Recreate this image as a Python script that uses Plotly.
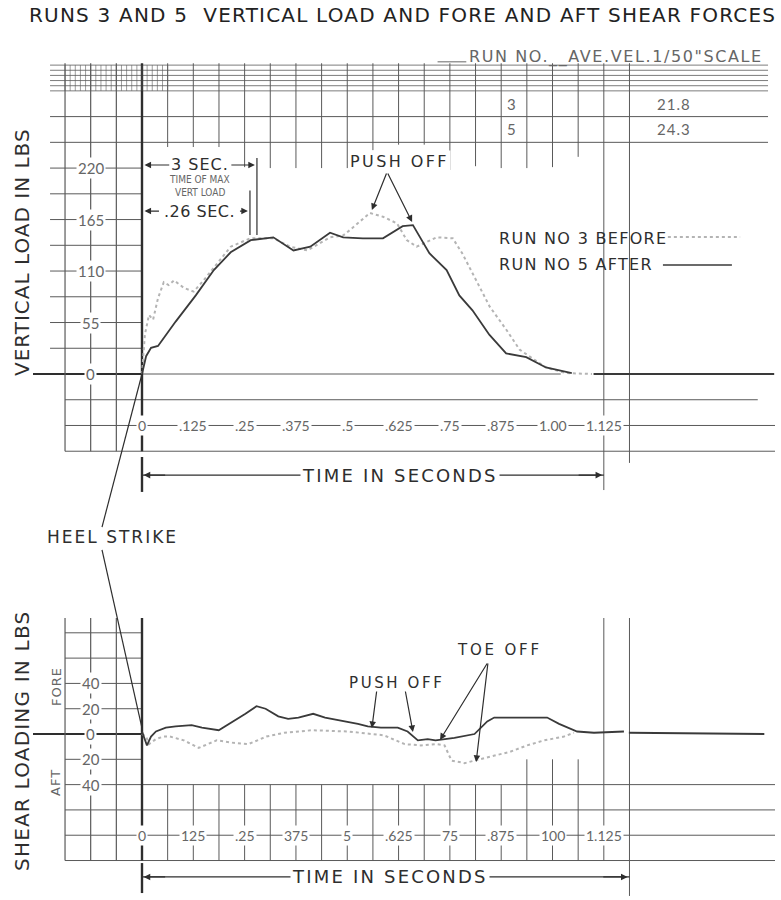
import plotly.graph_objects as go

# ---------------- data ----------------
# Vertical load (lbs) against time (s)
run5_time = [0, 0.010, 0.022, 0.039, 0.082, 0.131, 0.175, 0.216, 0.265, 0.320, 0.369, 0.410,
             0.458, 0.490, 0.538, 0.587, 0.635, 0.660, 0.700, 0.742, 0.773, 0.805, 0.846,
             0.887, 0.936, 0.984, 1.047, None, 1.100, 1.540]
run5_load = [0, 19, 28, 30, 56, 84, 111, 130, 143, 146, 132, 136,
             151, 146, 145, 145, 158, 159, 129, 111, 84, 68, 42,
             22, 18, 7, 1, None, 0, 0]

run3_time = [0, 0.007, 0.017, 0.027, 0.039, 0.053, 0.065, 0.078, 0.102, 0.126, 0.150, 0.175,
             0.216, 0.264, 0.320, 0.361, 0.403, 0.458, 0.490, 0.507, 0.555, 0.587, 0.621,
             0.645, 0.669, 0.718, 0.757, 0.780, 0.815, 0.847, 0.888, 0.920, 0.950, 0.984,
             1.033, 1.096]
run3_load = [0, 42, 63, 58, 81, 98, 95, 100, 92, 88, 100, 114,
             136, 145, 145, 136, 132, 146, 148, 154, 172, 168, 161,
             143, 136, 146, 145, 129, 100, 72, 47, 26, 17, 7,
             1, 0]

# Fore (+) / aft (-) shear (lbs) against time (s)
shear5_time = [0, 0.012, 0.022, 0.034, 0.058, 0.082, 0.121, 0.146, 0.187, 0.218, 0.252, 0.279,
               0.301, 0.332, 0.356, 0.381, 0.417, 0.446, 0.495, 0.526, 0.550, 0.582, 0.623,
               0.647, 0.672, 0.696, 0.715, 0.761, 0.810, 0.841, 0.858, 0.914, 0.987, 1.016,
               1.060, 1.101, 1.157, 1.174, None, 1.186, 1.516]
shear5_load = [2, -9, -2, 2, 5, 6, 7, 5, 3, 9, 16, 22,
               20, 14, 12, 13, 16, 13, 10, 8, 6, 5, 5,
               2, -5, -4, -5, -3, 0, 10, 13, 13, 13, 8,
               2, 1, 2, 2, None, 1, 0]

shear3_time = [0, 0.010, 0.017, 0.034, 0.053, 0.068, 0.102, 0.138, 0.182, 0.223, 0.259, 0.303,
               0.347, 0.415, 0.502, 0.589, 0.640, 0.679, 0.718, 0.737, 0.754, 0.786, 0.810,
               0.858, 0.897, 0.938, 0.980, 1.028, 1.052]
shear3_load = [0, -2, -8, -4, -2, -2, -5, -11, -5, -7, -8, -2,
               1, 3, 2, -1, -8, -9, -8, -9, -21, -23, -21,
               -17, -14, -9, -5, -2, 1]

time_ticks = [0, 0.125, 0.25, 0.375, 0.5, 0.625, 0.75, 0.875, 1.0, 1.125]
time_labels_top = ["0", ".125", ".25", ".375", ".5", ".625", ".75", ".875", "1.00", "1.125"]
time_labels_bottom = ["0", "125", ".25", "375", "5", ".625", "75", ".875", "100", "1.125"]
load_ticks = [220, 165, 110, 55, 0]
shear_ticks = [40, 20, 0, -20, -40]
shear_tick_labels = ["40", "20", "0", "20", "40"]
run_numbers = ["3", "5"]
run_velocities = ["21.8", "24.3"]

# ---------------- styling ----------------
INK = "#2e2e2e"
GRID = "#5a5a5a"
SOFT = "#666666"
LIGHT = "#b4b4b4"
FONT = "DejaVu Sans"
NUM_FONT = "Lato"

X_RANGE = [-0.3459, 1.5566]     # seconds across the sheet
Y_TOP = [-561.97, 399.57]       # vertical-load scale (lbs)
Y_BOT = [-131.2, 580.2]         # shear scale (lbs)

fig = go.Figure()

# ---------------- traces ----------------
fig.add_trace(go.Scatter(x=run3_time, y=run3_load, mode="lines", yaxis="y",
                         line=dict(color=LIGHT, width=2, dash="dot"), connectgaps=False,
                         name="RUN NO 3 BEFORE", hoverinfo="skip"))
fig.add_trace(go.Scatter(x=run5_time, y=run5_load, mode="lines", yaxis="y",
                         line=dict(color="#3a3a3a", width=1.8), connectgaps=False,
                         name="RUN NO 5 AFTER", hoverinfo="skip"))
fig.add_trace(go.Scatter(x=shear3_time, y=shear3_load, mode="lines", yaxis="y2",
                         line=dict(color=LIGHT, width=2, dash="dot"), connectgaps=False,
                         name="RUN NO 3 BEFORE (shear)", hoverinfo="skip"))
fig.add_trace(go.Scatter(x=shear5_time, y=shear5_load, mode="lines", yaxis="y2",
                         line=dict(color="#3a3a3a", width=1.8), connectgaps=False,
                         name="RUN NO 5 AFTER (shear)", hoverinfo="skip"))

shapes = []
annotations = []


def spaced(text, px):
    """Wrap text in a span with extra tracking."""
    return f'<span style="letter-spacing:{px}px">{text}</span>' if px else text


def hline(y, x0, x1, yref="y", color=GRID, width=1.0, dash="solid"):
    shapes.append(dict(type="line", xref="x", yref=yref, x0=x0, x1=x1, y0=y, y1=y,
                       line=dict(color=color, width=width, dash=dash), layer="below"))


def vline(x, y0, y1, yref="y", color=GRID, width=1.0):
    shapes.append(dict(type="line", xref="x", yref=yref, x0=x, x1=x, y0=y0, y1=y1,
                       line=dict(color=color, width=width), layer="below"))


def seg(x0, y0, x1, y1, yref="y", color=INK, width=1.2):
    shapes.append(dict(type="line", xref="x", yref=yref, x0=x0, x1=x1, y0=y0, y1=y1,
                       line=dict(color=color, width=width), layer="above"))


def arrow(xh, yh, xt, yt, yref="y", width=1.2):
    annotations.append(dict(x=xh, y=yh, ax=xt, ay=yt, xref="x", yref=yref, axref="x",
                            ayref=yref, text="", showarrow=True, arrowhead=2, arrowsize=1.1,
                            arrowwidth=width, arrowcolor=INK))


def label(x, y, text, yref="y", size=15, color=INK, xanchor="center", bg=None,
          angle=0, xref="x", family=FONT, track=0):
    a = dict(x=x, y=y, xref=xref, yref=yref, text=spaced(text, track), showarrow=False,
             xanchor=xanchor, yanchor="middle", textangle=angle,
             font=dict(family=family, size=size, color=color))
    if bg:
        a.update(bgcolor=bg, borderpad=1)
    annotations.append(a)


STEP_T = 0.0625

# ---------- upper sheet: vertical load grid ----------
for k in range(6):                                   # dense header band
    hline(302.5 + 5.5 * k, -0.224, 1.525, width=0.8)
for y in (275, 247.5):
    hline(y, -0.224, 1.525)
for k in range(1, 9):                                # left margin rows
    hline(27.5 * k, -0.224, 0)
hline(0, -0.2655, 0, color=INK, width=2.2)
hline(0, 0, 1.02, width=1)
hline(-27.5, -0.1875, 1.50)
hline(-55, -0.1875, 1.542)
hline(-82.5, -0.1875, 1.542)

for x in (-0.1875, -0.125, -0.0625):
    vline(x, -82.5, 332, width=1.2)
vline(0, -82.5, 332, color=INK, width=2.4)
fx = -0.1875
while fx < 0.0626:                                   # fine ruling in the header band
    vline(fx, 302.5, 330, width=0.6)
    fx += 0.0125
drops = [242.5, 242.5, 242.5, 221, 220, 220, 220, 220, 239, 245, 245, 218, 222, 220, 220, 221, 232]
for k, end in enumerate(drops, start=1):
    vline(STEP_T * k, end, 332)
vline(1.125, -124, 332)
vline(1.1875, -95, 332)

# time scale row (upper)
for t, s in zip(time_ticks, time_labels_top):
    label(t, -55, s, size=14, color=SOFT, bg="white", family=NUM_FONT)
for v in load_ticks:
    label(-0.125, v, str(v), size=15, color=SOFT, bg="white", family=NUM_FONT)

# TIME IN SECONDS (upper)
vline(0, -126, -88.7, color=INK, width=2.4)
shapes[-1]["layer"] = "above"
seg(0, -108, 1.125, -108)
arrow(0.004, -108, 0.06, -108)
arrow(1.121, -108, 1.06, -108)
label(0.628, -108, "TIME IN SECONDS", size=18, bg="white", track=2.2)

# max-load brackets
seg(0.28, 148.5, 0.28, 230.8)
seg(0.263, 148.5, 0.263, 196)
arrow(0.006, 223.3, 0.07, 223.3)
arrow(0.275, 223.3, 0.214, 223.3)
label(0.141, 223.3, "3 SEC.", size=16, track=1)
label(0.141, 207.3, "TIME OF MAX", size=10, color=SOFT, family="DejaVu Sans Condensed")
label(0.141, 194.4, "VERT LOAD", size=10, color=SOFT, family="DejaVu Sans Condensed")
arrow(0.006, 174.1, 0.045, 174.1)
arrow(0.258, 174.1, 0.235, 174.1)
label(0.141, 174.1, ".26 SEC.", size=16, track=0.5)

# push off (upper)
label(0.628, 226.5, "PUSH OFF", size=16, bg="white", track=2.4)
arrow(0.560, 175.2, 0.597, 215.8)
arrow(0.658, 162.4, 0.597, 215.8)

# key
label(0.865, 145.3, "RUN NO 3 BEFORE", size=16, xanchor="left", track=1.3)
label(0.865, 116.5, "RUN NO 5 AFTER", size=16, xanchor="left", track=1.3)
shapes.append(dict(type="line", xref="x", yref="y", x0=1.281, x1=1.457, y0=146.4, y1=146.4,
                   line=dict(color=LIGHT, width=2, dash="dot")))
shapes.append(dict(type="line", xref="x", yref="y", x0=1.269, x1=1.437, y0=116.5, y1=116.5,
                   line=dict(color="#3a3a3a", width=1.5)))

# run table
label(0.792, 338.7, 'RUN NO.__AVE.VEL.1/50"SCALE', size=16, color=SOFT, xanchor="left",
      track=1.6)
seg(0.72, 333.5, 0.79, 333.5, color=SOFT, width=1)
for yv, rn, vel in zip((288.75, 261.25), run_numbers, run_velocities):
    label(0.901, yv, rn, size=15, color=SOFT, family=NUM_FONT)
    label(1.25, yv, vel, size=15, color=SOFT, xanchor="left", family=NUM_FONT, track=1)

label(-0.2923, 130.3, "VERTICAL LOAD IN LBS", size=20, angle=-90, track=1)

# heel strike
label(-0.073, -174.1, "HEEL STRIKE", size=17, track=2)
seg(-0.0974, -163.5, 0, 0)
seg(-0.0974, 145.5, 0, 4.7, yref="y2")

# ---------- lower sheet: shear grid ----------
for y in (80, 60, 40, 20, -20):
    hline(y, -0.1875, 0, yref="y2")
hline(0, -0.2655, 0, yref="y2", color=INK, width=2.2)
for y in (-40, -60, -80, -100):
    hline(y, -0.1875, 1.542, yref="y2")
for x in (-0.1875, -0.125, -0.0625):
    vline(x, -100, 91.7, yref="y2", width=1.2)
vline(0, -100, 91.7, yref="y2", color=INK, width=2.4)
for k in range(1, 18):
    vline(STEP_T * k, -100, -20 if k >= 15 else -40, yref="y2")
vline(1.125, -100, 91.7, yref="y2")
vline(1.1875, -128, 91.7, yref="y2")

for t, s in zip(time_ticks, time_labels_bottom):
    label(t, -80, s, yref="y2", size=14, color=SOFT, bg="white", family=NUM_FONT)
for v, s in zip(shear_ticks, shear_tick_labels):
    label(-0.125, v, s, yref="y2", size=15, color=SOFT, bg="white", family=NUM_FONT)

label(-0.2095, 37.9, "FORE", yref="y2", size=13, color=SOFT, angle=-90, track=1)
label(-0.2095, -37.9, "AFT", yref="y2", size=13, color=SOFT, angle=-90, track=1)
label(-0.2923, -5.5, "SHEAR LOADING IN LBS", yref="y2", size=20, angle=-90, track=1.2)

# TIME IN SECONDS (lower)
vline(0, -125.7, -102, yref="y2", color=INK, width=2.4)
shapes[-1]["layer"] = "above"
seg(0, -113, 1.1875, -113, yref="y2")
arrow(0.004, -113, 0.06, -113, yref="y2")
arrow(1.183, -113, 1.12, -113, yref="y2")
label(0.604, -113, "TIME IN SECONDS", yref="y2", size=18, bg="white", track=2.2)

# push off / toe off (lower)
label(0.619, 40.3, "PUSH OFF", yref="y2", size=15, track=2.6)
arrow(0.560, 4.7, 0.572, 34.8, yref="y2")
arrow(0.660, 1.6, 0.641, 34.8, yref="y2")
label(0.872, 66.4, "TOE OFF", yref="y2", size=15, track=2.8)
arrow(0.726, -4.7, 0.843, 56.9, yref="y2")
arrow(0.814, -22.1, 0.843, 56.9, yref="y2")

# title
annotations.append(dict(x=0.515, y=1 - 15 / 900, xref="paper", yref="paper", showarrow=False,
                        text=spaced("RUNS 3 AND 5  VERTICAL LOAD AND FORE AND AFT SHEAR FORCES", 1.2),
                        font=dict(family=FONT, size=20, color="#222"),
                        xanchor="center", yanchor="middle"))

fig.update_layout(
    width=781, height=900,
    margin=dict(l=0, r=0, t=0, b=0),
    paper_bgcolor="white", plot_bgcolor="white",
    showlegend=False,
    xaxis=dict(range=X_RANGE, visible=False, domain=[0, 1], fixedrange=True),
    yaxis=dict(range=Y_TOP, visible=False, domain=[0, 1], fixedrange=True),
    yaxis2=dict(range=Y_BOT, visible=False, overlaying="y", anchor="x", fixedrange=True),
    shapes=shapes,
    annotations=annotations,
)

fig.write_html("out.html")
